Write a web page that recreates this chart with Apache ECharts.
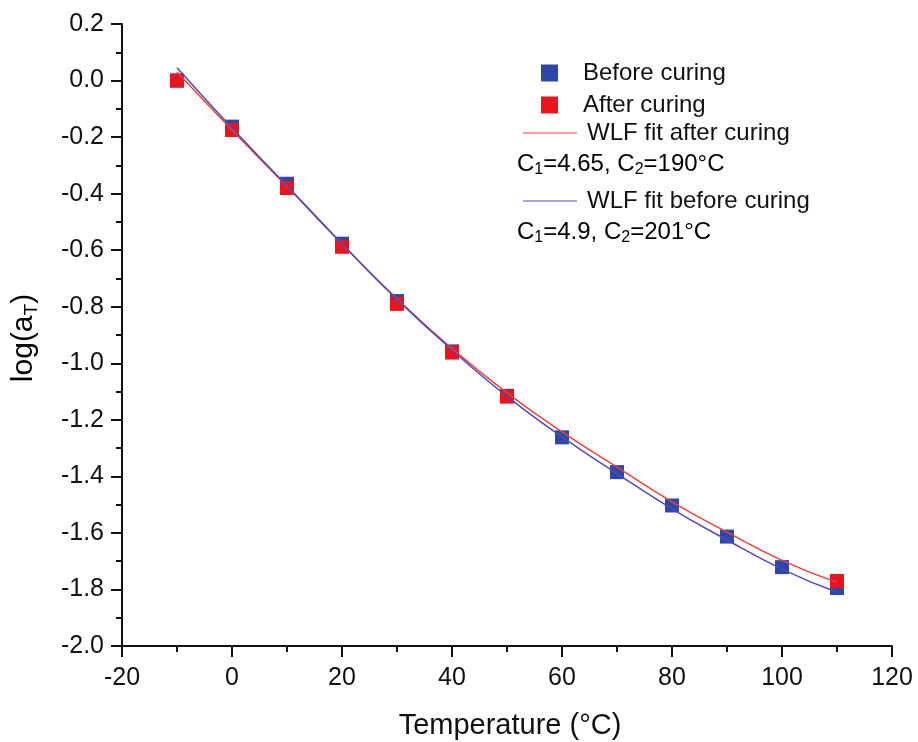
<!DOCTYPE html>
<html>
<head>
<meta charset="utf-8">
<script src="https://cdn.jsdelivr.net/npm/echarts@6/dist/echarts.min.js"></script>
<style>
html,body{margin:0;padding:0;background:#fff;}
#chart{width:918px;height:742px;}
</style>
</head>
<body>
<div id="chart"></div>
<script>
// ---- data ----
var temps = [-10, 0, 10, 20, 30, 40, 50, 60, 70, 80, 90, 100, 110];
var beforeCuring = [0.0, -0.163, -0.365, -0.577, -0.78, -0.958, -1.115, -1.262, -1.385, -1.503, -1.613, -1.721, -1.795];
var afterTemps = [-10, 0, 10, 20, 30, 40, 50, 110];
var afterCuring = [0.0, -0.175, -0.38, -0.588, -0.79, -0.962, -1.118, -1.77];
var fitAfter = [0.03, -0.175, -0.375, -0.578, -0.772, -0.948, -1.105, -1.243, -1.367, -1.49, -1.597, -1.697, -1.775];
var fitBefore = [0.045, -0.168, -0.372, -0.577, -0.774, -0.953, -1.117, -1.26, -1.39, -1.515, -1.625, -1.728, -1.81];
var xTicks = {min: -20, max: 120, interval: 20};
var yTicks = {min: -2.0, max: 0.2, interval: 0.2};

function pairs(xs, ys) { return xs.map(function (x, i) { return [x, ys[i]]; }); }

var FONT = '"Liberation Sans", Arial, Helvetica, sans-serif';
var BLUE = '#2d47a6', RED = '#e8141e';
var LBLUE = '#4c4cbc', LRED = '#f0403c';
var LINE_ICON = 'path://M0,0L100,0L100,2L0,2Z';

var chart = echarts.init(document.getElementById('chart'), null, {renderer: 'canvas'});

var richSub = {
  a: {fontSize: 24, fontFamily: FONT, color: '#111', lineHeight: 28},
  s: {fontSize: 16, fontFamily: FONT, color: '#111', lineHeight: 16, verticalAlign: 'bottom'}
};

var option = {
  animation: false,
  backgroundColor: '#fff',
  grid: {left: 122, right: 26, top: 24, bottom: 96, containLabel: false},
  xAxis: {
    type: 'value', min: xTicks.min, max: xTicks.max, interval: xTicks.interval,
    axisLine: {show: true, onZero: false, lineStyle: {color: '#111', width: 2}},
    axisTick: {show: true, inside: false, length: 11, lineStyle: {color: '#111', width: 2}},
    minorTick: {show: true, splitNumber: 2, length: 6, lineStyle: {color: '#111', width: 2}},
    splitLine: {show: false},
    axisLabel: {margin: 20, fontSize: 25, fontFamily: FONT, color: '#111'}
  },
  yAxis: {
    type: 'value', min: yTicks.min, max: yTicks.max, interval: yTicks.interval,
    axisLine: {show: true, onZero: false, lineStyle: {color: '#111', width: 2}},
    axisTick: {show: true, inside: false, length: 11, lineStyle: {color: '#111', width: 2}},
    minorTick: {show: true, splitNumber: 2, length: 6, lineStyle: {color: '#111', width: 2}},
    splitLine: {show: false},
    axisLabel: {margin: 18, fontSize: 25, fontFamily: FONT, color: '#111',
      formatter: function (v) { return v.toFixed(1); }}
  },
  legend: [
    {
      data: ['Before curing', 'After curing'], orient: 'vertical', left: 536, top: 56,
      itemWidth: 17, itemHeight: 17, itemGap: 8, selectedMode: false,
      textStyle: {fontSize: 24, fontFamily: FONT, color: '#111', padding: [0, 0, 0, 20]}
    },
    {
      data: [{name: 'WLF fit after curing', icon: LINE_ICON}], orient: 'vertical', left: 518, top: 116,
      itemWidth: 54, itemHeight: 1.5, selectedMode: false,
      textStyle: {fontSize: 24, fontFamily: FONT, color: '#111', padding: [0, 0, 0, 5]}
    },
    {
      data: [{name: 'WLF fit before curing', icon: LINE_ICON}], orient: 'vertical', left: 518, top: 184,
      itemWidth: 54, itemHeight: 1.5, selectedMode: false,
      textStyle: {fontSize: 24, fontFamily: FONT, color: '#111', padding: [0, 0, 0, 5]}
    }
  ],
  graphic: [
    {type: 'text', left: 517, top: 152, z: 100,
      style: {text: '{a|C}{s|1}{a|=4.65, C}{s|2}{a|=190°C}', rich: richSub}},
    {type: 'text', left: 517, top: 220, z: 100,
      style: {text: '{a|C}{s|1}{a|=4.9, C}{s|2}{a|=201°C}', rich: richSub}},
    {type: 'text', x: 510, y: 726, z: 100,
      style: {text: 'Temperature (°C)', fontSize: 29, fontFamily: FONT, fill: '#111',
        align: 'center', verticalAlign: 'middle'}},
    {type: 'text', x: 24, y: 338, rotation: Math.PI / 2, z: 100,
      style: {text: '{a|log(a}{s|T}{a|)}', align: 'center', verticalAlign: 'middle',
        rich: {
          a: {fontSize: 30, fontFamily: FONT, color: '#111', lineHeight: 34},
          s: {fontSize: 19, fontFamily: FONT, color: '#111', lineHeight: 19, verticalAlign: 'bottom'}
        }}}
  ],
  series: [
    {name: 'Before curing', type: 'scatter', symbol: 'rect', symbolSize: 14, z: 2,
      itemStyle: {color: BLUE, opacity: 1}, data: pairs(temps, beforeCuring)},
    {name: 'After curing', type: 'scatter', symbol: 'rect', symbolSize: 14, z: 3,
      itemStyle: {color: RED, opacity: 1}, data: pairs(afterTemps, afterCuring)},
    {name: 'WLF fit after curing', type: 'line', smooth: true, symbol: 'none', z: 4,
      lineStyle: {color: LRED, width: 1.5}, itemStyle: {color: LRED},
      data: pairs(temps, fitAfter)},
    {name: 'WLF fit before curing', type: 'line', smooth: true, symbol: 'none', z: 5,
      lineStyle: {color: LBLUE, width: 1.5}, itemStyle: {color: LBLUE},
      data: pairs(temps, fitBefore)}
  ]
};
chart.setOption(option);
</script>
</body>
</html>
